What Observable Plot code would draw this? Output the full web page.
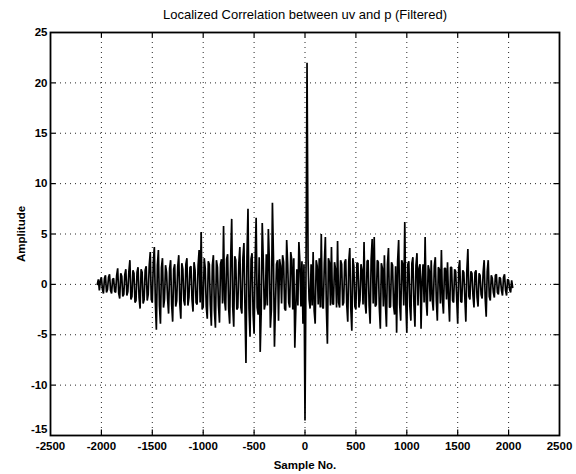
<!DOCTYPE html>
<html>
<head>
<meta charset="utf-8">
<script src="https://cdn.jsdelivr.net/npm/d3@7"></script>
<script src="https://cdn.jsdelivr.net/npm/@observablehq/plot@0.6"></script>
<style>
  html, body { margin: 0; padding: 0; background: #fff; }
  #chart { width: 576px; height: 474px; }
</style>
</head>
<body>
<div id="chart"></div>
<script>
// ---- data (sample lag, amplitude) ----
const titleText = "Localized Correlation between uv and p (Filtered)";
const xLabel = "Sample No.";
const yLabel = "Amplitude";
const xTicks = [-2500, -2000, -1500, -1000, -500, 0, 500, 1000, 1500, 2000, 2500];
const yTicks = [-15, -10, -5, 0, 5, 10, 15, 20, 25];

// samples -2040, -2020, ..., 2040
const amplitudeEven = [
  0, -0.6, 0.7, -0.9, 0.9, -0.5, 1.0, -0.9, 0.6, -0.8,
  1.6, -1.4, 0.8, -1.0, 1.5, -0.7, 2.4, -1.2, 1.1, -1.6,
  1.7, -2.4, 1.2, -1.5, 1.8, -1.0, 3.2, -1.8, 3.7, -4.5,
  3.4, -3.9, 2.6, -1.5, 1.2, -2.9, 2.4, -3.7, 2.0, -1.6,
  2.9, -3.4, 1.5, -2.1, 2.6, -1.3, 1.8, -2.7, 1.4, -2.0,
  3.4, 5.2, -2.2, 1.6, -3.4, 2.0, -4.1, 2.9, -4.3, 1.7,
  -3.8, 2.5, 5.8, -2.6, 3.0, -3.9, 6.5, -4.2, 2.4, -2.3,
  3.7, -2.9, 4.1, -7.8, 7.5, -5.2, 3.1, -4.9, 6.6, -3.0,
  -6.7, 6.1, -2.5, 3.0, 5.5, -4.3, 8.1, -6.2, 2.0, -3.6,
  1.8, 2.9, -2.4, 4.4, -1.8, 3.2, -2.5, -6.3, 1.5, 4.2,
  -2.2, -3.9, -13.5, 22.0, -1.5, 2.0, 3.2, -3.9, 1.8, 2.6,
  5.0, -2.4, 4.7, -5.9, 2.2, 3.7, -2.0, 1.5, 4.3, -2.3,
  2.0, -1.8, 2.5, -3.7, 3.6, -4.6, 1.8, -2.5, 2.1, -1.6,
  1.4, 4.2, -2.9, 2.4, -3.9, 4.5, 4.7, -2.0, 2.2, -4.4,
  1.6, 2.9, -4.2, 3.6, -2.2, 1.9, -3.0, -4.8, 4.4, -3.6,
  2.0, 6.2, -4.8, 2.3, -3.6, 2.7, -4.2, 3.1, 1.6, -4.4,
  2.0, 4.7, -3.1, 1.4, 2.4, -2.6, 2.7, -3.6, 1.5, 3.4,
  -2.9, 1.6, 2.2, -3.7, 1.7, -1.8, 1.3, -3.9, 2.4, -1.8,
  1.2, -3.7, 3.5, -1.5, 1.1, -2.3, 1.4, -2.2, 0.9, -1.4,
  2.4, -3.2, 2.4, -1.6, 0.6, -1.3, 1.0, -1.0, 0.6, -1.1,
  1.0, -1.1, 0.4, -0.8, -0.3
];
// samples -2030, -2010, ..., 2030
const amplitudeOdd = [
  0.5, 0.4, -0.5, 0.6, -0.8, 0.7, -0.6, 0.5, -0.7, 0.9,
  -0.9, 1.1, -1.2, 1.0, -1.1, 1.3, -1.5, 1.4, -1.8, 1.2,
  -1.3, 1.5, -1.9, 1.4, -1.6, 1.9, -1.5, 2.2, -1.8, 1.9,
  -2.1, 1.7, -2.3, 1.9, -1.4, 1.6, -2.0, 1.5, -2.2, 1.8,
  -1.9, 2.1, -1.6, 2.0, -2.1, 1.7, -1.5, 2.2, -1.8, 1.9,
  -1.8, -2.5, 2.6, -2.2, 2.3, -2.0, 1.9, -2.6, 2.4, -2.1,
  2.0, -1.9, -1.6, 2.5, -2.4, 2.6, -2.2, 2.8, -2.5, 2.1,
  -2.3, 2.6, -2.1, 2.8, -2.4, 2.5, -2.9, 2.2, -2.3, 2.7,
  -2.6, 2.4, -1.9, -2.1, 2.3, -2.5, 2.8, -2.0, 2.4, 2.5,
  -1.9, 2.2, -2.6, 2.0, -2.3, 2.4, 2.6, -2.4, -2.1, 2.2,
  2.3, 2.0, 1.5, 2.5, -2.4, -2.1, -2.6, 2.4, -2.0, -2.3,
  -2.2, 2.1, -2.4, 2.6, -2.1, -1.9, 2.2, -2.3, -1.8, 2.4,
  -2.1, 2.2, -2.0, 2.3, -2.4, 2.6, -2.2, 2.1, -2.3, 2.0,
  -2.0, -1.8, 2.3, -2.1, 2.5, -1.9, -2.2, 2.4, -2.3, 2.1,
  -2.2, -1.9, 2.0, -2.3, 2.2, -2.1, 1.8, 2.3, -2.0, 2.4,
  -2.1, -1.8, 2.0, -2.2, 2.1, -2.0, 1.9, -2.1, 2.0, 0.5,
  -1.8, -1.6, 1.9, -1.7, -1.5, 1.8, -1.6, 1.7, -1.9, -1.5,
  1.6, -1.5, -1.4, 1.7, -1.6, 1.5, -1.4, 1.6, -1.7, 1.4,
  -1.3, 1.4, -1.2, 1.3, -1.1, 1.2, -1.3, 1.1, -1.0, 1.2,
  -1.4, 1.3, -1.2, 0.9, -0.8, 0.9, -0.8, 0.7, -0.6, 0.7,
  -0.6, 0.5, -0.5, 0.4
];
const firstSample = -2040;
const sampleSpacing = 20;

// interleave the two hand-read lists into one ordered series
const series = [];
amplitudeEven.forEach((v, i) => {
  series.push({sample: firstSample + i * sampleSpacing, value: v});
  if (i < amplitudeOdd.length) {
    series.push({sample: firstSample + i * sampleSpacing + sampleSpacing / 2, value: amplitudeOdd[i]});
  }
});

const xMin = xTicks[0], xMax = xTicks[xTicks.length - 1];
const yMin = yTicks[0], yMax = yTicks[yTicks.length - 1];
const innerX = xTicks.slice(1, -1);
const innerY = yTicks.slice(1, -1);
const fnt = "'Liberation Sans', Arial, Helvetica, sans-serif";

const chart = Plot.plot({
  width: 576,
  height: 474,
  marginLeft: 50,
  marginRight: 17,
  marginTop: 32,
  marginBottom: 39,
  style: {fontFamily: fnt, background: "#fff", color: "#000"},
  x: {domain: [xMin, xMax]},
  y: {domain: [yMin, yMax]},
  marks: [
    // dotted grid
    Plot.ruleX(innerX, {stroke: "#000", strokeWidth: 1, strokeDasharray: "1,4", strokeOpacity: 0.85}),
    Plot.ruleY(innerY, {stroke: "#000", strokeWidth: 1, strokeDasharray: "1,4", strokeOpacity: 0.85}),
    // inward ticks on all four sides
    Plot.ruleX(innerX, {y1: yMin, y2: yMin + 0.55, stroke: "#000", strokeWidth: 1.2}),
    Plot.ruleX(innerX, {y1: yMax, y2: yMax - 0.55, stroke: "#000", strokeWidth: 1.2}),
    Plot.ruleY(innerY, {x1: xMin, x2: xMin + 55, stroke: "#000", strokeWidth: 1.2}),
    Plot.ruleY(innerY, {x1: xMax, x2: xMax - 55, stroke: "#000", strokeWidth: 1.2}),
    // the signal
    Plot.line(series, {x: "sample", y: "value", stroke: "#000", strokeWidth: 1.7, strokeLinejoin: "miter"}),
    Plot.frame({stroke: "#000", strokeWidth: 1.8}),
    Plot.axisX(xTicks, {
      anchor: "bottom", tickSize: 0, tickPadding: 6, fontSize: 11.5, fontWeight: "bold",
      tickFormat: d => String(d),
      label: xLabel, labelAnchor: "center", labelArrow: "none", labelOffset: 33
    }),
    Plot.axisY(yTicks.slice(1), {
      anchor: "left", tickSize: 0, tickPadding: 3, fontSize: 11.5, fontWeight: "bold",
      tickFormat: d => String(d),
      label: yLabel, labelAnchor: "center", labelArrow: "none", labelOffset: 34
    }),
    Plot.axisY(yTicks.slice(0, 1), {
      anchor: "left", tickSize: 0, tickPadding: 3, fontSize: 11.5, fontWeight: "bold", dy: -6,
      tickFormat: d => String(d), label: null
    }),
    Plot.text([titleText], {frameAnchor: "top", dy: -18, fontSize: 13, lineAnchor: "middle"})
  ]
});
document.getElementById("chart").appendChild(chart);
</script>
</body>
</html>
